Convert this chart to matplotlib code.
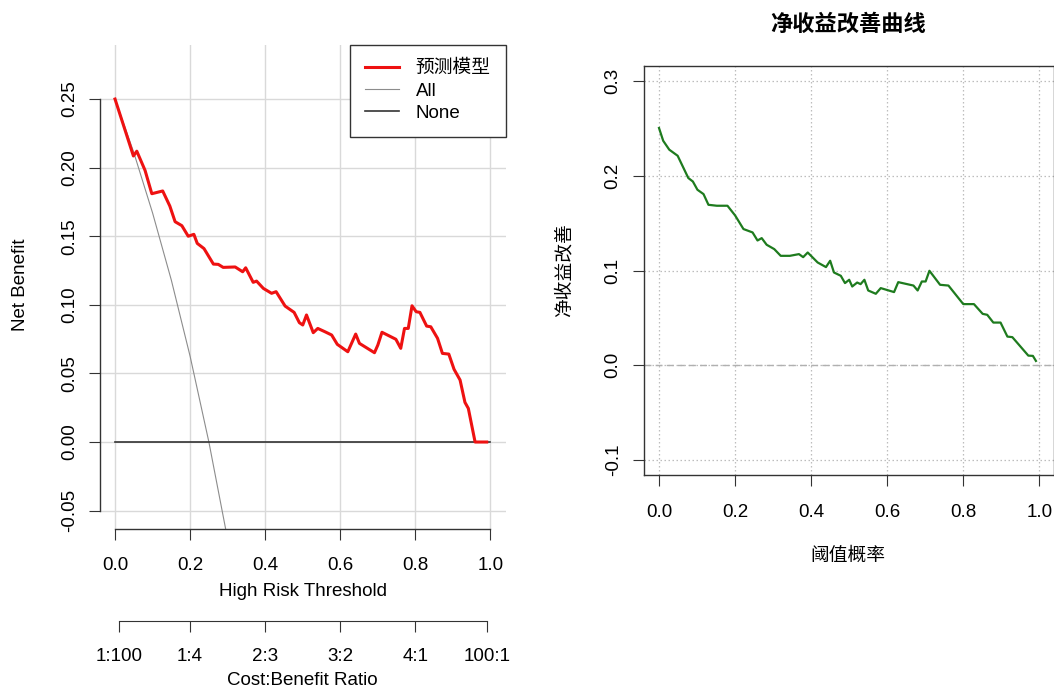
import matplotlib
matplotlib.use("Agg")
import matplotlib.pyplot as plt

plt.rcParams['font.family'] = ['Liberation Sans', 'Noto Sans CJK SC', 'DejaVu Sans']
plt.rcParams['axes.unicode_minus'] = False

# ---- data ----
# decision curve (left panel)
model_thr = [0.0, 0.049, 0.058, 0.080, 0.098, 0.127, 0.146, 0.160, 0.178, 0.195,
             0.210, 0.219, 0.237, 0.262, 0.275, 0.288, 0.320, 0.340, 0.348, 0.368,
             0.377, 0.395, 0.417, 0.429, 0.453, 0.477, 0.491, 0.500, 0.510, 0.528,
             0.540, 0.559, 0.577, 0.592, 0.620, 0.641, 0.651, 0.691, 0.700, 0.711,
             0.748, 0.761, 0.771, 0.781, 0.791, 0.802, 0.812, 0.830, 0.841, 0.859,
             0.872, 0.889, 0.903, 0.919, 0.932, 0.941, 0.959, 0.990]
model_nb = [0.250, 0.2085, 0.212, 0.198, 0.181, 0.183, 0.172, 0.1606, 0.1577, 0.150,
            0.1514, 0.1448, 0.141, 0.1297, 0.1295, 0.1273, 0.1276, 0.1241, 0.127, 0.1164,
            0.1173, 0.112, 0.1084, 0.1096, 0.0991, 0.0945, 0.087, 0.0853, 0.0926, 0.0797,
            0.0828, 0.0804, 0.078, 0.0712, 0.0658, 0.0787, 0.0719, 0.0651, 0.0707, 0.080,
            0.0749, 0.0683, 0.0828, 0.0828, 0.0993, 0.095, 0.0945, 0.0845, 0.084, 0.0756,
            0.0646, 0.0641, 0.053, 0.0452, 0.0289, 0.0245, 0.0, 0.0]
all_thr = [0.0, 0.05, 0.10, 0.15, 0.20, 0.25, 0.30]
all_nb = [0.250, 0.211, 0.167, 0.118, 0.0625, 0.0, -0.071]
none_thr = [0.0, 1.0]
none_nb = [0.0, 0.0]
cb_pos = [0.0099, 0.2, 0.4, 0.6, 0.8, 0.9901]
cb_labels = ['1:100', '1:4', '2:3', '3:2', '4:1', '100:1']

# net benefit improvement curve (right panel)
imp_thr = [0.0, 0.011, 0.027, 0.049, 0.077, 0.089, 0.101, 0.117, 0.130, 0.152,
           0.180, 0.200, 0.222, 0.246, 0.259, 0.270, 0.283, 0.303, 0.320, 0.344,
           0.368, 0.379, 0.391, 0.417, 0.439, 0.450, 0.460, 0.478, 0.489, 0.500,
           0.508, 0.521, 0.530, 0.540, 0.550, 0.570, 0.583, 0.618, 0.629, 0.669,
           0.680, 0.691, 0.701, 0.711, 0.739, 0.761, 0.800, 0.828, 0.851, 0.863,
           0.879, 0.898, 0.916, 0.929, 0.971, 0.983, 0.991]
imp_nb = [0.2505, 0.237, 0.2276, 0.2212, 0.1977, 0.194, 0.1853, 0.1807, 0.1694, 0.1684,
          0.1684, 0.1582, 0.1438, 0.1402, 0.1317, 0.1342, 0.1272, 0.1226, 0.1155, 0.1155,
          0.1173, 0.1141, 0.119, 0.1085, 0.1036, 0.1103, 0.0979, 0.0944, 0.0867, 0.0902,
          0.0831, 0.0873, 0.0856, 0.0902, 0.0789, 0.0754, 0.0814, 0.0772, 0.0877, 0.0841,
          0.0789, 0.0884, 0.0884, 0.0997, 0.0849, 0.0841, 0.0645, 0.0645, 0.0542, 0.0532,
          0.045, 0.045, 0.0302, 0.0296, 0.0101, 0.0098, 0.0045]

W, H = 1054, 687
fig = plt.figure(figsize=(W / 100, H / 100), dpi=100)
fs = 13.5
tick_len = 7.9

# ---------------- left: decision curve ----------------
ax = fig.add_axes([100 / W, 1 - 529 / H, 405.5 / W, 484 / H])
ax.set_xlim(-0.04, 1.04)
ax.set_ylim(-0.0634, 0.2894)
yt = [-0.05, 0.0, 0.05, 0.10, 0.15, 0.20, 0.25]
xt = [0.0, 0.2, 0.4, 0.6, 0.8, 1.0]
for v in yt:
    ax.axhline(v, color='#d9d9d9', lw=1, zorder=0)
for v in xt:
    ax.axvline(v, color='#d9d9d9', lw=1, zorder=0)

l_model, = ax.plot(model_thr, model_nb, color='#ee1111', lw=2.2, zorder=3)
l_all, = ax.plot(all_thr, all_nb, color='#8c8c8c', lw=0.8, zorder=2)
l_none, = ax.plot(none_thr, none_nb, color='#333333', lw=1.2, zorder=2)

for s in ['top', 'right']:
    ax.spines[s].set_visible(False)
ax.spines['left'].set_bounds(-0.05, 0.25)
ax.spines['bottom'].set_bounds(0, 1)
for s in ['left', 'bottom']:
    ax.spines[s].set_color('#333333')
    ax.spines[s].set_linewidth(1)
ax.set_yticks(yt, ['%.2f' % v for v in yt])
ax.set_xticks(xt, ['%.1f' % v for v in xt])
ax.tick_params(axis='y', labelrotation=90, length=tick_len, width=0.8, color='#333333',
               labelsize=fs, pad=8)
ax.tick_params(axis='x', length=tick_len, width=0.8, color='#333333', labelsize=fs, pad=12)
for lab in ax.get_yticklabels():
    lab.set_va('center')
ax.set_xlabel('High Risk Threshold', fontsize=fs, va='center')
ax.xaxis.set_label_coords(0.5, (529 - 591) / 484)
ax.set_ylabel('Net Benefit', fontsize=fs, va='center')
ax.yaxis.set_label_coords((21 - 100) / 405.5, (529 - 285) / 484)

leg = ax.legend([l_model, l_all, l_none], ['预测模型', 'All', 'None'], loc='upper right',
                bbox_to_anchor=(1.0, 1.0), borderaxespad=0, fontsize=fs, frameon=True,
                fancybox=False, framealpha=1, edgecolor='#333333', handlelength=1.8,
                handletextpad=0.9, labelspacing=0.28, borderpad=0.8)
leg.get_frame().set_linewidth(1)

# cost:benefit axis
sec = ax.secondary_xaxis((529 - 620.7) / 484)
sec.set_xticks(cb_pos, cb_labels)
sec.spines['bottom'].set_bounds(cb_pos[0], cb_pos[-1])
sec.spines['bottom'].set_color('#333333')
sec.tick_params(axis='x', length=tick_len, width=0.8, color='#333333', labelsize=fs, pad=11.5)
sec.set_xlabel('Cost:Benefit Ratio', fontsize=fs, labelpad=5)

# ---------------- right: improvement curve ----------------
ax2 = fig.add_axes([643.8 / W, 1 - 475 / H, 410 / W, 409 / H])
ax2.set_xlim(-0.04, 1.038)
ax2.set_ylim(-0.116, 0.316)
yt2 = [-0.1, 0.0, 0.1, 0.2, 0.3]
for v in yt2:
    ax2.axhline(v, color='#bdbdbd', lw=0.9, ls=(0, (1.2, 2)), zorder=0)
for v in xt:
    ax2.axvline(v, color='#bdbdbd', lw=0.9, ls=(0, (1.2, 2)), zorder=0)
ax2.axhline(0, color='#b0b0b0', lw=1, ls=(0, (5, 3)), zorder=1)
ax2.plot(imp_thr, imp_nb, color='#1e7b1e', lw=1.6, zorder=3)
for s in ax2.spines.values():
    s.set_color('#333333')
    s.set_linewidth(1)
ax2.set_yticks(yt2, ['%.1f' % v for v in yt2])
ax2.set_xticks(xt, ['%.1f' % v for v in xt])
ax2.tick_params(axis='y', labelrotation=90, length=tick_len, width=0.8, color='#333333',
                labelsize=fs, pad=8)
ax2.tick_params(axis='x', length=tick_len, width=0.8, color='#333333', labelsize=fs, pad=13)
for lab in ax2.get_yticklabels():
    lab.set_va('center')
ax2.set_xlabel('阈值概率', fontsize=fs, va='center')
ax2.xaxis.set_label_coords((848 - 643.8) / 410, (475 - 556) / 409)
ax2.set_ylabel('净收益改善', fontsize=fs, va='center')
ax2.yaxis.set_label_coords((565 - 643.8) / 410, 0.5)

fig.text(848 / W, 1 - 25 / H, '净收益改善曲线', fontsize=16, fontweight='bold',
         ha='center', va='center')

fig.savefig('out.png', dpi=100)
